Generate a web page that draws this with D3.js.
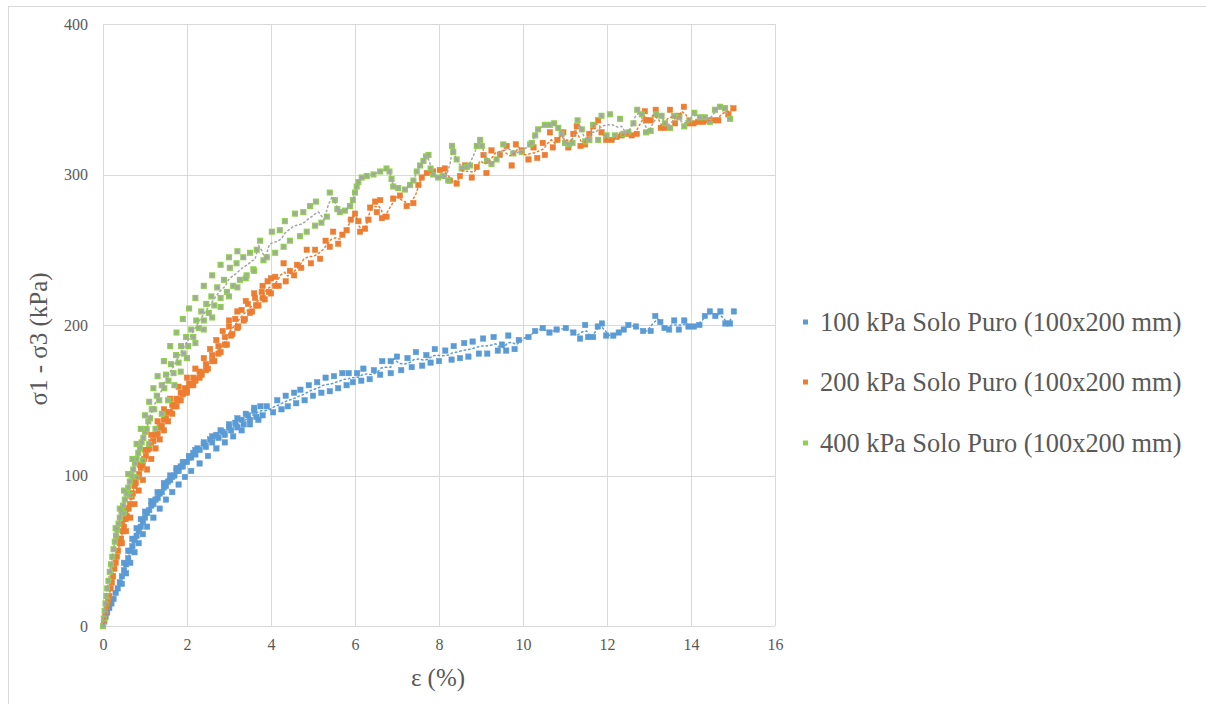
<!DOCTYPE html>
<html><head><meta charset="utf-8">
<script src="https://cdn.jsdelivr.net/npm/d3@7"></script>
<style>
html,body{margin:0;padding:0;background:#fff;}
svg{display:block;}
</style></head>
<body><svg id="c" width="1206" height="704"></svg>
<script>
const xTicks = [0,2,4,6,8,10,12,14,16];
const yTicks = [0,100,200,300,400];
const seriesNames = ["100 kPa Solo Puro (100x200 mm)","200 kPa Solo Puro (100x200 mm)","400 kPa Solo Puro (100x200 mm)"];
const xLabel = "ε (%)";
const yLabel = "σ1 - σ3 (kPa)";

const s100 = [[0,0],[0.03,3],[0.06,6],[0.1,9],[0.15,12],[0.2,15],[0.25,18],[0.3,22],[0.35,25],[0.4,29],[0.45,33],[0.5,37],[0.55,41],[0.6,45],[0.65,50],[0.7,53],[0.75,57],[0.8,60],[0.85,63],[0.9,66],[0.95,69],[1.0,72],[1.05,75],[1.1,77],[1.15,80],[1.2,81],[1.25,84],[1.3,85],[1.35,88],[1.4,89],[1.45,92],[1.5,93],[1.55,96],[1.6,97],[1.65,99],[1.7,100],[1.75,103],[1.8,103],[1.85,106],[1.9,106],[1.95,109],[2.0,109],[2.05,112],[2.1,112],[2.15,115],[2.2,114],[2.25,118],[2.3,117],[2.4,121],[2.45,119],[2.55,124],[2.6,122],[2.7,127],[2.75,125],[2.85,129],[2.9,127],[3.0,132],[3.05,130],[3.15,135],[3.2,132],[3.3,137],[3.35,134],[3.45,140],[3.5,137],[3.6,143],[3.65,139],[3.75,146],[3.8,140],[3.9,146],[4.05,142],[4.15,150],[4.25,144],[4.35,153],[4.4,146],[4.55,155],[4.6,148],[4.7,157],[4.8,150],[4.9,160],[5.0,153],[5.1,162],[5.2,155],[5.3,165],[5.4,156],[5.5,166],[5.6,158],[5.7,168],[5.8,160],[5.85,168],[5.95,162],[6.05,168],[6.15,163],[6.2,171],[6.35,164],[6.45,170],[6.6,167],[6.65,176],[6.85,168],[6.85,176],[7.0,179],[7.1,170],[7.25,178],[7.35,172],[7.45,182],[7.6,173],[7.7,180],[7.8,175],[7.9,184],[8.0,176],[8.15,183],[8.3,177],[8.35,186],[8.5,178],[8.6,188],[8.7,179],[8.8,189],[8.95,181],[9.05,191],[9.15,181],[9.3,192],[9.4,183],[9.5,187],[9.6,183],[9.65,193],[9.8,184],[9.9,190],[10.13,192],[10.29,196],[10.47,198],[10.63,195],[10.8,197],[11.02,198],[11.2,195],[11.36,191],[11.48,200],[11.55,192],[11.67,192],[11.78,199],[11.88,201],[11.98,193],[12.15,193],[12.28,195],[12.4,197],[12.51,200],[12.69,199],[12.86,196],[13.04,196],[13.15,206],[13.27,202],[13.37,198],[13.48,197],[13.6,203],[13.71,197],[13.84,203],[13.94,199],[14.07,199],[14.2,200],[14.33,206],[14.45,209],[14.58,206],[14.7,209],[14.82,201],[14.93,201],[15.02,209]];
const s100Extra = [[0.5,42],[0.6,50],[0.7,58],[0.8,65],[0.9,71],[1.0,76],[1.15,83],[1.3,89],[1.45,95],[1.6,100],[1.75,105],[1.9,109],[2.05,113],[2.2,117],[2.4,122],[2.6,126],[2.8,130],[3.0,134],[3.2,138],[3.4,141],[3.6,145],[0.45,28],[0.55,35],[0.65,42],[0.75,49],[0.85,55],[0.95,61],[1.05,66],[1.2,72],[1.35,78],[1.5,84],[1.65,89],[1.8,94],[1.95,99],[2.1,103],[2.3,108],[2.5,113],[2.7,118],[2.9,122],[3.1,126],[3.3,130],[3.5,134],[3.7,137]];

const s200 = [[0,0],[0.03,4],[0.06,8],[0.09,12],[0.12,16],[0.15,20],[0.18,25],[0.21,29],[0.24,33],[0.27,38],[0.3,42],[0.33,46],[0.36,50],[0.4,55],[0.43,58],[0.47,63],[0.5,66],[0.54,71],[0.57,73],[0.61,78],[0.64,81],[0.68,86],[0.71,88],[0.75,93],[0.78,95],[0.82,99],[0.86,101],[0.9,105],[0.94,107],[0.98,111],[1.02,113],[1.06,117],[1.1,118],[1.15,122],[1.2,123],[1.25,127],[1.3,128],[1.35,132],[1.4,133],[1.45,137],[1.5,138],[1.55,142],[1.6,142],[1.65,147],[1.7,146],[1.75,151],[1.8,150],[1.85,155],[1.9,154],[1.95,158],[2.0,157],[2.05,161],[2.1,160],[2.15,165],[2.2,163],[2.3,169],[2.35,167],[2.45,174],[2.5,171],[2.6,180],[2.65,176],[2.75,186],[2.8,182],[2.9,192],[2.95,187],[3.0,199],[3.08,194],[3.15,204],[3.22,199],[3.3,210],[3.38,204],[3.45,214],[3.55,209],[3.62,218],[3.7,213],[3.78,222],[3.85,217],[3.92,229],[4.0,221],[4.1,232],[4.18,226],[4.3,241],[4.35,229],[4.45,236],[4.55,233],[4.62,240],[4.72,238],[4.85,250],[4.95,241],[5.05,250],[5.17,244],[5.3,256],[5.4,252],[5.48,262],[5.6,254],[5.7,260],[5.8,263],[5.9,270],[6.0,274],[6.08,269],[6.12,262],[6.24,264],[6.32,270],[6.36,278],[6.48,282],[6.52,275],[6.6,283],[6.64,271],[6.75,272],[6.91,284],[7.07,286],[7.23,279],[7.39,281],[7.51,293],[7.59,298],[7.71,301],[7.86,302],[8.02,303],[8.14,304],[8.26,296],[8.42,294],[8.5,299],[8.62,306],[8.78,298],[8.9,305],[9.06,313],[9.13,301],[9.25,316],[9.45,313],[9.61,319],[9.73,306],[9.83,320],[9.97,316],[10.13,310],[10.25,318],[10.34,311],[10.47,321],[10.52,313],[10.64,328],[10.71,318],[10.82,323],[10.96,328],[11.08,318],[11.2,327],[11.28,332],[11.37,319],[11.48,320],[11.58,327],[11.67,332],[11.79,336],[11.87,328],[11.98,323],[12.11,323],[12.23,325],[12.35,326],[12.47,327],[12.59,326],[12.71,327],[12.9,342],[12.93,336],[13.04,336],[13.16,343],[13.28,331],[13.38,331],[13.5,343],[13.62,334],[13.72,339],[13.83,345],[13.94,334],[14.06,334],[14.17,335],[14.29,335],[14.4,336],[14.53,336],[14.65,336],[14.81,344],[14.89,340],[15.01,344]];
const s200Extra = [[0.45,55],[0.55,63],[0.65,72],[0.75,81],[0.85,90],[0.95,97],[1.05,104],[1.15,111],[1.25,118],[1.35,124],[1.45,130],[1.55,136],[1.65,141],[1.75,146],[1.85,150],[2.0,155],[2.15,160],[2.3,165],[2.45,170],[2.6,176],[2.75,181],[2.9,187],[3.05,193],[3.2,198],[3.35,203],[3.5,208],[3.65,213],[3.8,218],[3.95,222],[4.1,226],[0.35,58],[0.45,68],[0.55,78],[0.65,88],[0.75,97],[0.88,107],[1.0,117],[1.15,127],[1.3,136],[1.45,144],[1.6,151],[1.8,159],[2.0,165],[2.2,171],[2.4,178],[2.55,184],[2.7,190],[2.85,196],[3.0,203],[3.2,209],[3.4,216],[3.6,221],[3.8,226],[4.0,231]];

const s400 = [[0,0],[0.02,5],[0.04,10],[0.06,15],[0.08,20],[0.1,25],[0.13,30],[0.16,36],[0.19,41],[0.22,46],[0.25,51],[0.28,56],[0.31,60],[0.34,64],[0.37,68],[0.4,72],[0.44,76],[0.48,80],[0.52,84],[0.56,88],[0.6,92],[0.64,96],[0.68,100],[0.72,104],[0.76,108],[0.8,111],[0.84,115],[0.88,118],[0.92,122],[0.96,125],[1.0,129],[1.04,131],[1.08,136],[1.12,138],[1.16,144],[1.22,144],[1.28,153],[1.34,150],[1.4,160],[1.46,158],[1.5,167],[1.56,163],[1.62,174],[1.68,168],[1.74,180],[1.8,175],[1.86,186],[1.92,181],[1.98,192],[2.03,186],[2.1,197],[2.15,192],[2.22,203],[2.28,198],[2.34,209],[2.4,203],[2.46,214],[2.52,208],[2.58,219],[2.65,213],[2.72,225],[2.8,218],[2.88,230],[2.95,222],[3.02,238],[3.1,226],[3.18,241],[3.26,230],[3.34,245],[3.42,233],[3.5,248],[3.58,237],[3.66,250],[3.74,256],[3.82,243],[3.9,245],[4.02,262],[4.1,248],[4.21,263],[4.3,252],[4.33,269],[4.45,256],[4.57,274],[4.69,259],[4.77,275],[4.85,262],[4.93,279],[5.05,266],[5.07,282],[5.2,268],[5.33,272],[5.4,288],[5.52,283],[5.58,277],[5.64,275],[5.76,276],[5.88,279],[5.95,283],[6.0,288],[6.04,292],[6.08,295],[6.16,298],[6.28,299],[6.44,300],[6.6,302],[6.75,304],[6.82,302],[6.87,297],[6.91,292],[7.03,291],[7.19,290],[7.31,293],[7.39,296],[7.47,302],[7.55,306],[7.63,309],[7.69,312],[7.75,313],[7.8,304],[7.86,300],[7.98,298],[8.1,299],[8.22,296],[8.31,319],[8.34,315],[8.42,310],[8.54,304],[8.66,305],[8.74,306],[8.9,319],[8.98,323],[9.02,319],[9.14,309],[9.25,307],[9.37,310],[9.53,320],[9.77,314],[9.97,315],[10.17,320],[10.21,321],[10.29,326],[10.36,330],[10.52,333],[10.64,333],[10.74,334],[10.84,331],[10.92,327],[11.0,321],[11.1,320],[11.18,321],[11.3,336],[11.4,330],[11.48,322],[11.58,323],[11.67,333],[11.79,323],[11.87,339],[11.99,326],[12.07,340],[12.19,326],[12.31,337],[12.39,327],[12.51,328],[12.63,334],[12.72,343],[12.83,340],[12.93,328],[13.04,329],[13.17,340],[13.3,339],[13.38,334],[13.5,331],[13.6,339],[13.72,338],[13.84,332],[13.96,336],[14.08,341],[14.21,338],[14.33,338],[14.45,335],[14.57,343],[14.69,345],[14.81,344],[14.93,337]];
const s400Extra = [[0.3,65],[0.4,78],[0.5,90],[0.6,101],[0.7,111],[0.8,121],[0.9,131],[1.0,140],[1.1,149],[1.2,158],[1.3,166],[1.45,176],[1.6,186],[1.75,195],[1.9,204],[2.05,211],[2.2,218],[2.4,226],[2.6,233],[2.8,240],[3.0,245],[3.2,249],[0.5,75],[0.65,87],[0.8,99],[0.95,110],[1.1,121],[1.25,131],[1.4,141],[1.55,150],[1.7,160],[1.85,169],[2.0,178],[2.2,188],[2.4,197],[2.6,205],[2.8,212],[3.0,219],[3.2,225],[3.4,231],[3.6,236]];

const FONT = "Liberation Serif";
const svg = d3.select("#c");
const x = d3.scaleLinear().domain([0,16]).range([103,775]);
const y = d3.scaleLinear().domain([0,400]).range([626,24]);

// outer frame
svg.append("rect").attr("x",8.5).attr("y",6.5).attr("width",1300).attr("height",800)
  .attr("fill","#fff").attr("stroke","#d9d9d9").attr("stroke-width",1);

// gridlines
const g = svg.append("g");
g.selectAll(".vg").data(xTicks).join("line")
  .attr("x1",d=>Math.round(x(d))+0.5).attr("x2",d=>Math.round(x(d))+0.5)
  .attr("y1",y(0)).attr("y2",y(400)).attr("stroke","#d9d9d9").attr("stroke-width",1);
g.selectAll(".hg").data(yTicks).join("line")
  .attr("y1",d=>Math.round(y(d))+0.5).attr("y2",d=>Math.round(y(d))+0.5)
  .attr("x1",x(0)).attr("x2",x(16)).attr("stroke","#d9d9d9").attr("stroke-width",1);

// axes (labels only)
const xAxis = d3.axisBottom(x).tickValues(xTicks).tickSize(0).tickPadding(13);
const yAxis = d3.axisLeft(y).tickValues(yTicks).tickSize(0).tickPadding(15);
const gx = svg.append("g").attr("transform",`translate(0,${y(0)})`).call(xAxis);
const gy = svg.append("g").attr("transform",`translate(${x(0)},0)`).call(yAxis);
[gx,gy].forEach(a=>{
  a.attr("font-family",FONT).attr("font-size",16);
  a.select(".domain").remove();
  a.selectAll("text").attr("fill","#595959").attr("font-family",FONT).attr("font-size",16);
});

// axis titles
svg.append("text").attr("x",438).attr("y",686).attr("text-anchor","middle")
  .attr("font-family",FONT).attr("font-size",25).attr("fill","#595959").text(xLabel);
svg.append("text").attr("transform",`translate(47,339) rotate(-90)`).attr("text-anchor","middle")
  .attr("font-family",FONT).attr("font-size",25).attr("fill","#595959").text(yLabel);

const series = [
  {data:s100, extra:s100Extra, fill:"#5b9bd5", stroke:"#5b9bd5", line:"#5b9bd5", size:5.4, sw:0.5},
  {data:s200, extra:s200Extra, fill:"#ed7d31", stroke:"#ed7d31", line:"#ed7d31", size:5.4, sw:0.5},
  {data:s400, extra:s400Extra, fill:"#a5a5a5", stroke:"#8fd14f", line:"#a5a5a5", size:4.8, sw:1.3}
];

const plot = svg.append("g");
series.forEach(s=>{
  const pts = s.data.concat(s.extra);
  plot.append("g").selectAll("rect").data(pts).join("rect")
    .attr("x",d=>x(d[0])-s.size/2).attr("y",d=>y(d[1])-s.size/2)
    .attr("width",s.size).attr("height",s.size)
    .attr("fill",s.fill).attr("stroke",s.stroke).attr("stroke-width",s.sw);
});
// 2-period moving average trendlines (dotted)
const line = d3.line().x(d=>x(d[0])).y(d=>y(d[1]));
series.forEach(s=>{
  const ma = d3.pairs(s.data).map(([a,b])=>[(a[0]+b[0])/2,(a[1]+b[1])/2]);
  plot.append("path").attr("d",line(ma)).attr("fill","none")
    .attr("stroke",s.line).attr("stroke-width",1.5)
    .attr("stroke-dasharray","1.5,3").attr("stroke-linecap","round");
});

// legend
const lg = svg.append("g");
const ly = [322,382,443];
series.forEach((s,i)=>{
  lg.append("rect").attr("x",803).attr("y",ly[i]-2.5).attr("width",5).attr("height",5)
    .attr("fill",i===2?"#8fd14f":s.fill);
  lg.append("text").attr("x",820).attr("y",ly[i]).attr("dy","0.35em")
    .attr("font-family",FONT).attr("font-size",26.4).attr("fill","#595959").text(seriesNames[i]);
});
</script></body></html>
